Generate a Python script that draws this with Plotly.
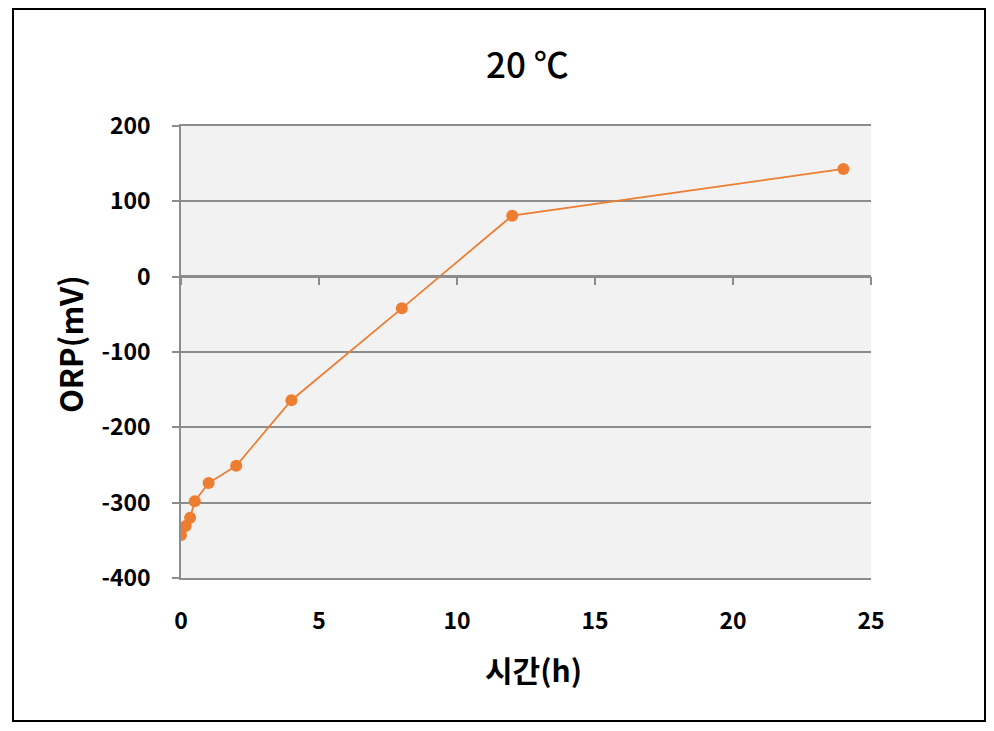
import plotly.graph_objects as go

time_h = [0, 0.17, 0.33, 0.5, 1, 2, 4, 8, 12, 24]
orp_mv = [-343, -331, -320, -298, -274, -251, -164, -42, 81, 143]
x_ticks = [0, 5, 10, 15, 20, 25]
y_ticks = [-400, -300, -200, -100, 0, 100, 200]
y_tick_text = ["-400", "-300", "-200", "-100", "0", "100", "200"]

orange = "#ED7D31"
grid = "#8C8C8C"
fnt = "Noto Sans CJK KR, Liberation Sans, Arial"

# page offset of 8px (body margin) compensated in margins
L, T, W, H = 181 - 8, 126 - 8, 690, 452

def px(x):
    return (x - 181) / W

def py(y):
    return (578 - y) / H

fig = go.Figure()
fig.add_trace(go.Scatter(
    x=time_h, y=orp_mv, mode="lines+markers",
    line=dict(color=orange, width=1.75),
    marker=dict(color=orange, size=12),
    showlegend=False, hoverinfo="x+y"))
fig.add_trace(go.Scatter(x=[0, 25], y=[0, 0], xaxis="x2", mode="lines",
                         line=dict(width=0), showlegend=False, hoverinfo="skip"))

fig.update_layout(
    width=994, height=731,
    paper_bgcolor="white", plot_bgcolor="#F2F2F2",
    margin=dict(l=L, r=994 - L - W, t=T, b=731 - T - H),
    xaxis=dict(range=[0, 25], tickvals=x_ticks, showgrid=False, zeroline=False,
               showline=True, mirror=True, linecolor=grid, linewidth=1.5,
               ticks="", ticklabelstandoff=22,
               tickfont=dict(family=fnt, size=23, color="black", weight="bold")),
    xaxis2=dict(range=[0, 25], tickvals=x_ticks, overlaying="x", anchor="free",
                position=py(276), showgrid=False, zeroline=False,
                showline=True, linecolor=grid, linewidth=1.5,
                ticks="outside", ticklen=8, tickcolor=grid, tickwidth=1.5,
                showticklabels=False, side="bottom"),
    yaxis=dict(range=[-400, 200], tickvals=y_ticks, ticktext=y_tick_text, showgrid=True,
               gridcolor=grid, gridwidth=1.5, zeroline=False,
               showline=True, linecolor=grid, linewidth=1.5,
               ticks="outside", ticklen=7, tickcolor=grid, tickwidth=1.5,
               ticklabelstandoff=17,
               tickfont=dict(family=fnt, size=23, color="black", weight="bold")),
)

fig.add_annotation(text="20 ℃", xref="paper", yref="paper", x=px(527), y=py(62),
                   showarrow=False, xanchor="center", yanchor="middle",
                   font=dict(family=fnt, size=35, color="black", weight=500))
fig.add_annotation(text="ORP(mV)", xref="paper", yref="paper", x=px(69), y=py(344),
                   showarrow=False, textangle=-90, xanchor="center", yanchor="middle",
                   font=dict(family=fnt, size=31, color="black", weight="bold"))
fig.add_annotation(text="시간(h)", xref="paper", yref="paper", x=px(533), y=py(669),
                   showarrow=False, xanchor="center", yanchor="middle",
                   font=dict(family=fnt, size=30, color="black", weight="bold"))

fig.add_shape(type="rect", xref="paper", yref="paper",
              x0=px(13), x1=px(985), y0=py(721), y1=py(9),
              line=dict(color="black", width=2), fillcolor="rgba(0,0,0,0)", layer="below")

fig.write_html("out.html")
